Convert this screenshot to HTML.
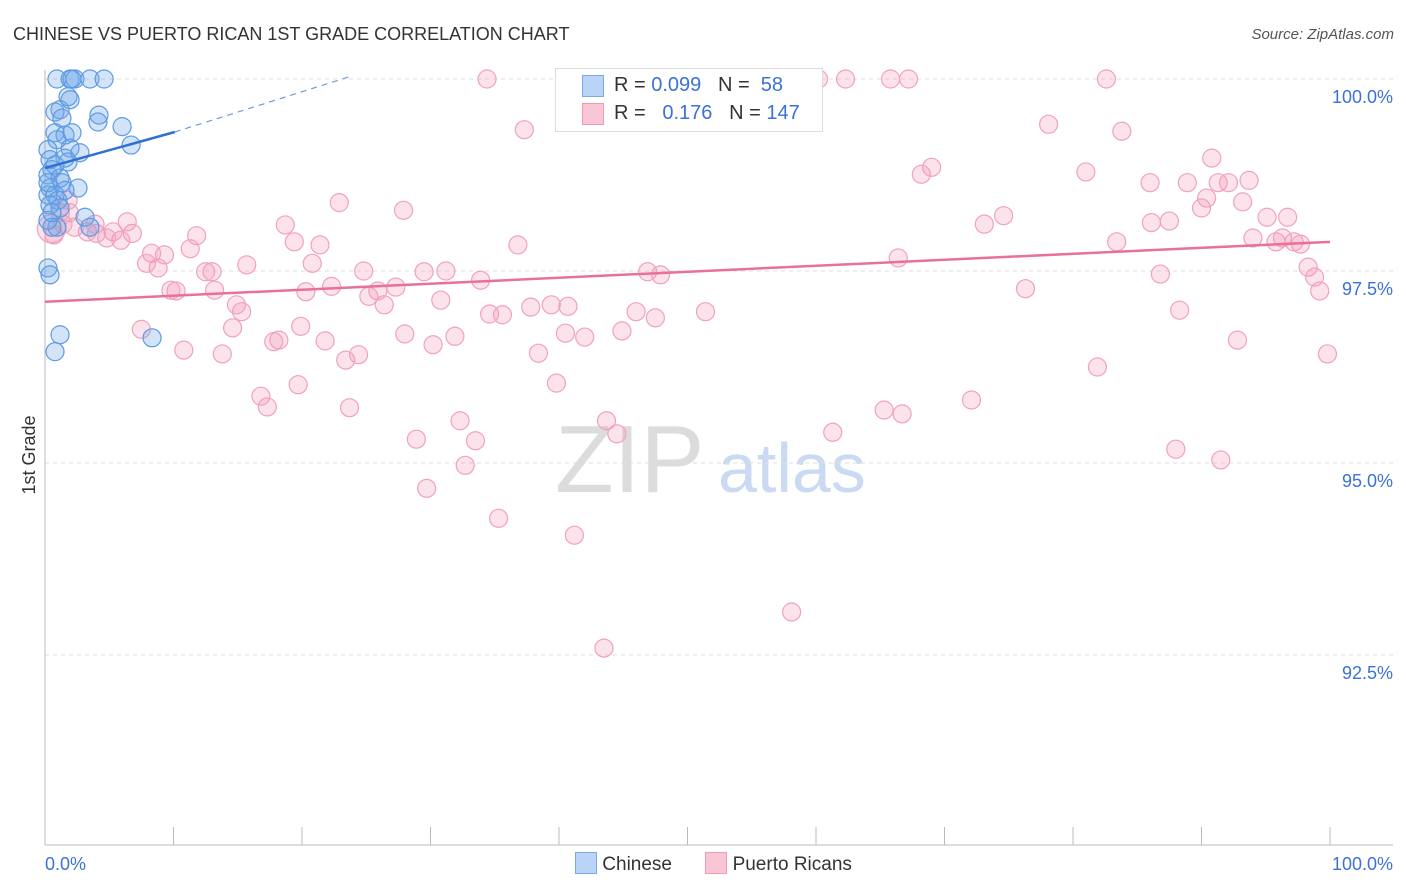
<!DOCTYPE html>
<html><head><meta charset="utf-8"><style>
body{margin:0;background:#fff;font-family:"Liberation Sans",sans-serif}
#wrap{position:relative;width:1406px;height:892px;overflow:hidden}
svg text{font-family:"Liberation Sans",sans-serif}
</style></head><body>
<div id="wrap">
<svg id="chart" width="1406" height="892">
<text x="13" y="40" font-size="18" fill="#333">CHINESE VS PUERTO RICAN 1ST GRADE CORRELATION CHART</text>
<text x="1394" y="39" font-size="15" fill="#555" text-anchor="end" font-style="italic">Source: ZipAtlas.com</text>
<text x="35" y="455" font-size="18" fill="#333" transform="rotate(-90 35 455)" text-anchor="middle">1st Grade</text>
<text x="555" y="492" font-size="96" fill="#dcdcdc" font-family="Liberation Serif">ZIP</text>
<text x="718" y="492" font-size="70" fill="#c9daf2">atlas</text>
<g id="grid"></g><g id="pts"></g><g id="trend"></g>
</svg>
<div style="position:absolute;left:555px;top:68px;width:266px;height:62px;border:1px solid #ddd;background:#fff;font-size:20px;color:#333">
<div style="position:absolute;left:26px;top:6px;width:20px;height:20px;background:#b9d4f6;border:1px solid #7aaae6"></div>
<div style="position:absolute;left:58px;top:5px">R = <span style="color:#3b72d6">0.099</span>&nbsp;&nbsp;&nbsp;N = &nbsp;<span style="color:#3b72d6">58</span></div>
<div style="position:absolute;left:26px;top:34px;width:20px;height:20px;background:#f9c6d5;border:1px solid #f09ab6"></div>
<div style="position:absolute;left:58px;top:33px">R = &nbsp;&nbsp;<span style="color:#3b72d6">0.176</span>&nbsp;&nbsp;&nbsp;N = <span style="color:#3b72d6">147</span></div>
</div>
<div style="position:absolute;left:575px;top:852px;font-size:19px;color:#333;white-space:nowrap">
<span style="display:inline-block;width:20px;height:20px;background:#b9d4f6;border:1px solid #7aaae6;vertical-align:-4px"></span> <span>Chinese</span>
<span style="display:inline-block;width:20px;height:20px;background:#f9c6d5;border:1px solid #f09ab6;vertical-align:-4px;margin-left:28px"></span> <span>Puerto Ricans</span>
</div>
</div>
<script>
const blueX=[0.93,1.95,2.33,3.5,4.6,2.1,1.17,1.79,1.95,0.78,1.32,4.2,4.12,6.0,0.78,1.56,2.1,0.93,0.23,1.95,2.72,6.7,0.39,1.56,1.79,0.54,0.23,1.17,1.32,2.57,0.39,0.23,0.78,1.01,0.39,1.17,3.11,0.93,0.54,3.5,0.23,0.39,1.17,0.78,8.33,0.23,0.54,0.23,1.56,0.78];
const blueY=[100,100,100,100,100,100,99.6,99.77,99.73,99.57,99.49,99.53,99.44,99.38,99.30,99.27,99.30,99.21,99.08,99.10,99.04,99.14,98.95,98.97,98.92,98.82,98.75,98.71,98.65,98.58,98.58,98.49,98.49,98.42,98.36,98.32,98.20,98.07,98.07,98.07,97.54,97.45,96.67,96.45,96.63,98.16,98.26,98.65,98.55,98.88];
const pinkX=[34.4,48.8,49.3,53.7,59.5,60.2,62.3,65.8,67.2,82.6,37.3,78.1,83.8,90.8,69.0,68.2,81.0,86.0,88.9,91.3,92.1,93.7,90.4,93.2,90.0,74.6,73.1,86.1,87.5,95.1,96.7,94.0,83.4,95.8,96.3,97.2,97.7,98.3,98.8,99.2,86.8,76.3,88.3,92.8,81.9,99.8,66.4,72.1,65.3,66.7,61.3,88.0,91.5,58.1,43.5,41.2,35.3,29.7,32.7,33.5,32.3,28.9,43.7,44.5,39.8,38.4,51.4,47.5,46.0,44.9,42.0,40.5,40.7,39.4,37.8,46.9,47.9,36.8,34.6,35.6,33.9,30.8,31.2,29.5,27.3,26.4,25.9,25.2,24.8,24.4,23.7,23.4,22.3,21.8,21.4,20.8,20.3,19.7,19.4,18.7,18.2,17.8,17.3,16.8,15.7,15.3,14.6,14.9,13.2,13.0,12.5,11.8,11.3,10.8,10.2,9.8,9.3,8.8,8.3,7.9,7.5,6.8,6.4,5.9,5.3,4.8,4.0,3.3,2.3,1.9,1.4,0.7,1.2,1.8,3.9,22.9,27.9,28.0,30.2,31.9,13.8,19.9,0.5];
const pinkY=[100,100,100,100,100,100,100,100,100,100,99.34,99.41,99.32,98.97,98.85,98.76,98.79,98.65,98.65,98.65,98.65,98.68,98.45,98.40,98.32,98.22,98.11,98.13,98.15,98.20,98.20,97.93,97.88,97.88,97.93,97.88,97.85,97.55,97.42,97.24,97.46,97.27,96.99,96.60,96.25,96.42,97.67,95.82,95.69,95.64,95.40,95.18,95.04,93.06,92.59,94.06,94.28,94.67,94.97,95.29,95.55,95.31,95.55,95.38,96.04,96.43,96.97,96.89,96.97,96.72,96.64,96.69,97.04,97.06,97.03,97.49,97.45,97.84,96.94,96.93,97.38,97.12,97.50,97.49,97.29,97.06,97.24,97.17,97.50,96.41,95.72,96.34,97.30,96.59,97.84,97.60,97.23,96.02,97.88,98.10,96.60,96.58,95.73,95.87,97.58,96.97,96.76,97.06,97.25,97.49,97.49,97.96,97.79,96.47,97.24,97.25,97.71,97.54,97.73,97.60,96.74,97.99,98.14,97.90,98.01,97.93,97.99,98.01,98.07,98.26,98.11,97.97,98.26,98.42,98.11,98.39,98.29,96.68,96.54,96.65,96.42,96.78,98.05];
const yTicks=[100,97.5,95,92.5];
const yTickLabels=["100.0%","97.5%","95.0%","92.5%"];
const blueTrendX=[0,10.1,23.7];
const blueTrendY=[98.84,99.31,100.03];
const pinkTrendX=[0,100];
const pinkTrendY=[97.10,97.88];
const NS="http://www.w3.org/2000/svg";
const sx=v=>45+v*12.85, sy=v=>79+(100-v)*76.8;
function mk(tag,attrs,parent){const e=document.createElementNS(NS,tag);for(const k in attrs)e.setAttribute(k,attrs[k]);parent.appendChild(e);return e;}
const grid=document.getElementById('grid');
yTicks.forEach((t,i)=>{
 const l=mk('line',{x1:45,x2:1393,y1:sy(t),y2:sy(t),stroke:'#ddd','stroke-dasharray':'4 4'},grid);
 
 
 const tx=mk('text',{x:1393,y:sy(t)+24,'font-size':18,fill:'#3b72d6','text-anchor':'end'},grid);
 tx.textContent=yTickLabels[i];
 
 
});
const ax=mk('line',{x1:45,x2:45,y1:70,y2:845,stroke:'#bbb'},grid);


const bx=mk('line',{x1:45,x2:1393,y1:845,y2:845,stroke:'#bbb'},grid);


for(let i=0;i<=10;i++){const t=mk('line',{x1:sx(i*10),x2:sx(i*10),y1:827,y2:845,stroke:'#bbb'},grid);
 
 }
const x0=mk('text',{x:45,y:870,'font-size':18,fill:'#3b72d6'},grid);x0.textContent='0.0%';


const x1=mk('text',{x:1393,y:870,'font-size':18,fill:'#3b72d6','text-anchor':'end'},grid);x1.textContent='100.0%';


const pts=document.getElementById('pts');
pinkX.forEach((x,i)=>{const c=mk('circle',{cx:sx(x),cy:sy(pinkY[i]),r:i==pinkX.length-1?14:9,fill:'rgba(244,150,182,0.28)',stroke:'#f0a2bd','stroke-width':1.2},pts);
 
 });
blueX.forEach((x,i)=>{const c=mk('circle',{cx:sx(x),cy:sy(blueY[i]),r:9,fill:'rgba(110,165,232,0.3)',stroke:'#5e9be2','stroke-width':1.2},pts);
 
 });
const tr=document.getElementById('trend');
const p=mk('line',{x1:sx(pinkTrendX[0]),y1:sy(pinkTrendY[0]),x2:sx(pinkTrendX[1]),y2:sy(pinkTrendY[1]),stroke:'#e8709a','stroke-width':2.5},tr);


const b=mk('line',{x1:sx(blueTrendX[0]),y1:sy(blueTrendY[0]),x2:sx(blueTrendX[1]),y2:sy(blueTrendY[1]),stroke:'#2f6fd6','stroke-width':2.5},tr);


const bd=mk('line',{x1:sx(blueTrendX[1]),y1:sy(blueTrendY[1]),x2:sx(blueTrendX[2]),y2:sy(blueTrendY[2]),stroke:'#6b9be0','stroke-width':1.2,'stroke-dasharray':'6 5'},tr);


</script>
</body></html>
